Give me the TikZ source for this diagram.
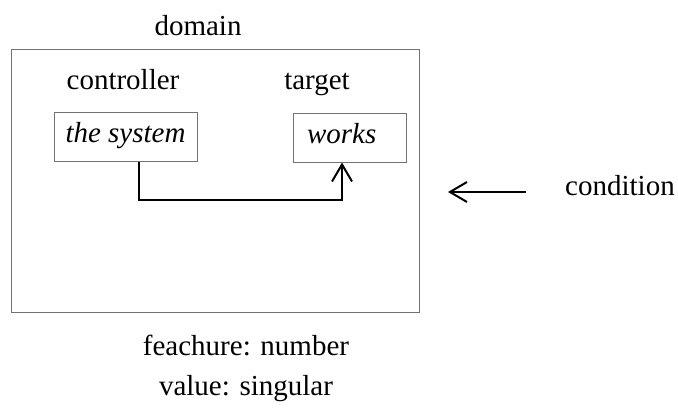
\documentclass[tikz,border=0pt]{standalone}
\usepackage{fontspec}
\setmainfont{Liberation Serif}
\usetikzlibrary{arrows.meta}

\begin{document}
\begin{tikzpicture}[x=0.5pt, y=-0.5pt,
    font=\fontsize{14.5}{17}\selectfont,
    word/.style={anchor=base, inner sep=0pt},
    thinbox/.style={draw=black!55, line width=0.5pt},
    slot/.style={thinbox, inner ysep=0pt, text height=15pt, text depth=9.5pt, align=left,
      font=\fontsize{14.5}{17}\selectfont\itshape},
    flow/.style={line width=1pt, -{Straight Barb[length=8.5pt, width=10pt]}}]
  \useasboundingbox (0,0) rectangle (678,412);

  \node[thinbox, minimum width=204pt, minimum height=131.5pt] (domain) at (215,180.5) {};
  \node[word] (domainlbl) at (198,35.5) {domain};

  \node[word] (ctrllbl) at (123,89) {controller};
  \node[word] (tgtlbl) at (317,89) {target};

  \node[slot, inner xsep=2pt, minimum width=71.5pt] (sys) at (125.5,136.5) {the system};
  \node[slot, inner xsep=7pt, text width=42.5pt] (tgt) at (349.5,137.5) {works};
  \draw[flow] ([xshift=6.75pt]sys.south) -- ++(0,38) -| ([xshift=-3.75pt]tgt.south);

  \node[word] (cond) at (620,195) {condition};
  \coordinate (condtail) at (526,192);
  \draw[flow] (condtail) -- ++(-78,0);

  \node[word] (feat) at (246,355) {feachure: number};
  \node[word] (val) at (246,395) {value: singular};
\end{tikzpicture}
\end{document}
